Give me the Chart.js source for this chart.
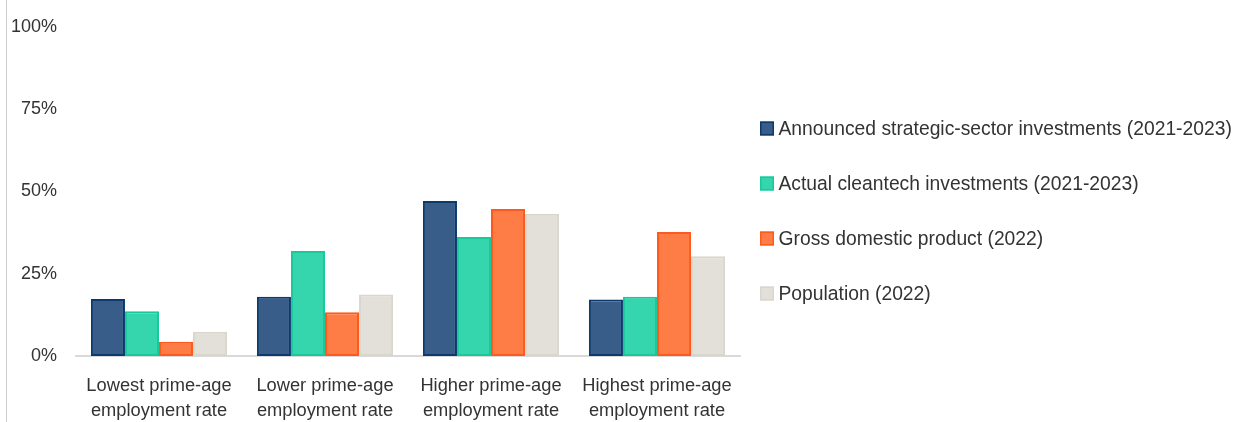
<!DOCTYPE html>
<html>
<head>
<meta charset="utf-8">
<script src="https://cdn.jsdelivr.net/npm/chart.js@4"></script>
<style>
  html, body { margin: 0; padding: 0; background: #fff; }
  #wrap { position: relative; width: 1244px; height: 422px; }
  #wrap:before { content: ''; position: absolute; left: 6px; top: 0; bottom: 0; border-left: 1px solid #d0d0d0; }
</style>
</head>
<body>
<div id="wrap"><canvas id="chart" width="1244" height="422"></canvas></div>
<script>
// Share of each measure by employment-rate group (%)
const categories = [
  ['Lowest prime-age', 'employment rate'],
  ['Lower prime-age', 'employment rate'],
  ['Higher prime-age', 'employment rate'],
  ['Highest prime-age', 'employment rate']
];
const announced = [17.3, 18.0, 47.1, 17.2];
const cleantech = [13.6, 31.9, 36.2, 18.0];
const gdp = [4.3, 13.3, 44.7, 37.7];
const population = [7.4, 18.7, 43.2, 30.3];
const seriesNames = [
  'Announced strategic-sector investments (2021-2023)',
  'Actual cleantech investments (2021-2023)',
  'Gross domestic product (2022)',
  'Population (2022)'
];
const yTicks = [0, 25, 50, 75, 100];

const FONT = 'Liberation Sans, Arial, sans-serif';
const TEXT = '#333333';

// legend drawn on the right, one row per dataset
const sideLegend = {
  id: 'sideLegend',
  afterDraw(chart) {
    const ctx = chart.ctx;
    const x = chart.chartArea.right + 20;
    const mid = chart.height / 2;
    ctx.save();
    ctx.font = '19.3px ' + FONT;
    ctx.textBaseline = 'middle';
    chart.data.datasets.forEach((ds, i) => {
      const y = mid + (i - 1.5) * 55;
      ctx.fillStyle = ds.backgroundColor;
      ctx.fillRect(x, y - 7, 14, 14);
      ctx.strokeStyle = ds.borderColor;
      ctx.lineWidth = 1.5;
      ctx.strokeRect(x + 0.75, y - 6.25, 12.5, 12.5);
      ctx.fillStyle = TEXT;
      ctx.fillText(ds.label, x + 18.5, y + 1);
    });
    ctx.restore();
  }
};

const bar = (label, data, fill, border) => ({
  label, data,
  backgroundColor: fill,
  borderColor: border,
  borderWidth: 2,
  borderSkipped: false
});

new Chart(document.getElementById('chart'), {
  type: 'bar',
  data: {
    labels: categories,
    datasets: [
      bar(seriesNames[0], announced, '#385d89', '#0c3a6f'),
      bar(seriesNames[1], cleantech, '#35d6ad', '#17c99b'),
      bar(seriesNames[2], gdp, '#fe7c46', '#ff5a1d'),
      bar(seriesNames[3], population, '#e3e0da', '#d9d6ce')
    ]
  },
  options: {
    responsive: false,
    animation: false,
    layout: { padding: { top: 27, right: 504, bottom: 0, left: 0 } },
    plugins: {
      legend: { display: false },
      tooltip: { enabled: false }
    },
    datasets: {
      bar: { categoryPercentage: 0.82, barPercentage: 1 }
    },
    scales: {
      x: {
        grid: { display: false, drawTicks: false },
        border: { display: true, color: '#d9d9d9', width: 2 },
        ticks: {
          color: TEXT,
          font: { family: FONT, size: 18.3, lineHeight: 1.35 },
          padding: 18,
          maxRotation: 0
        },
        afterFit: s => { s.height = 66; }
      },
      y: {
        min: 0,
        max: 100,
        afterBuildTicks: s => { s.ticks = yTicks.map(v => ({ value: v })); },
        grid: { display: false, drawTicks: false },
        border: { display: false },
        ticks: {
          color: TEXT,
          font: { family: FONT, size: 18 },
          padding: 19,
          callback: v => v + '%'
        },
        afterFit: s => {
          s.width = 76;
          // tick padding should only push labels sideways, not shrink the plot
          s.paddingTop = 0;
          s.paddingBottom = 0;
        }
      }
    }
  },
  plugins: [sideLegend]
});
</script>
</body>
</html>
